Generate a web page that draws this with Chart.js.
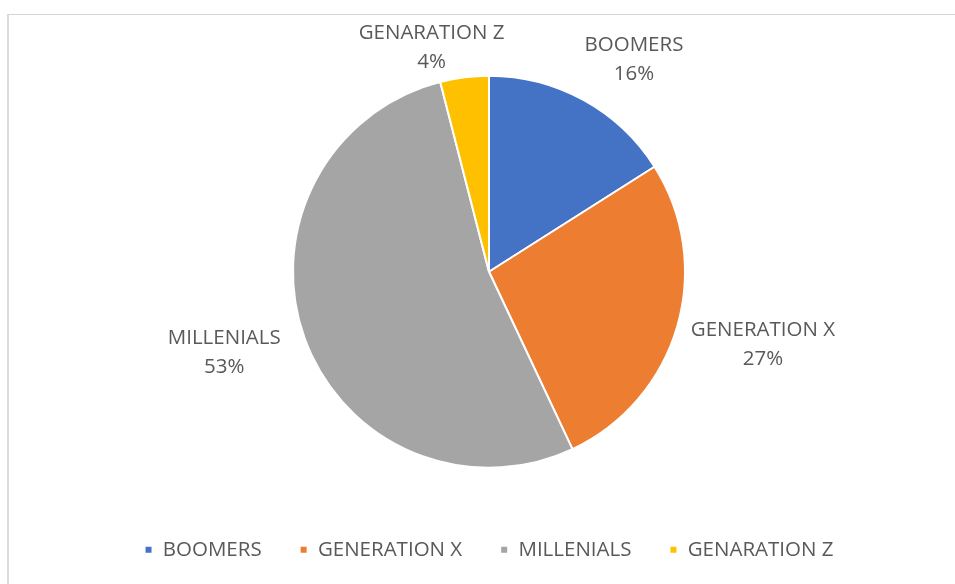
<!DOCTYPE html>
<html>
<head>
<meta charset="utf-8">
<title>Generations</title>
<script src="https://cdn.jsdelivr.net/npm/chart.js@4/dist/chart.umd.min.js"></script>
<style>
    html, body { margin: 0; padding: 0; background: #ffffff; }
    #wrap { position: relative; width: 955px; height: 584px; }
    #sheet {
        position: absolute; left: 7px; top: 14px; right: 0; bottom: 0;
        border-top: 1px solid #d4d4d4; border-left: 2px solid #dcdcdc;
    }
    #genChart { position: absolute; left: 0; top: 0; }
</style>
</head>
<body>
<div id="wrap">
    <div id="sheet"></div>
    <canvas id="genChart" width="955" height="584"></canvas>
</div>
<script>
const generations = ['BOOMERS', 'GENERATION X', 'MILLENIALS', 'GENARATION Z'];
const shares = [16, 27, 53, 4];
const sliceColors = ['#4472C4', '#ED7D31', '#A5A5A5', '#FFC000'];

const textColor = '#595959';
const fontFamily = "'Open Sans', 'Noto Sans', sans-serif";
const fontSize = 20.5;

// category name + percent written just outside each slice
const outsideLabels = {
    id: 'outsideLabels',
    afterDatasetsDraw(chart, args, opts) {
        const ctx = chart.ctx;
        const meta = chart.getDatasetMeta(0);
        ctx.save();
        ctx.font = fontSize + 'px ' + fontFamily;
        ctx.fillStyle = textColor;
        ctx.textAlign = 'center';
        ctx.textBaseline = 'middle';
        const lineH = 29;
        meta.data.forEach(function (arc, i) {
            const mid = (arc.startAngle + arc.endAngle) / 2;
            const r = arc.outerRadius + opts.offset;
            const lines = [chart.data.labels[i], shares[i] + '%'];
            const w = Math.max.apply(null, lines.map(t => ctx.measureText(t).width));
            const h = lineH * lines.length;
            const nudge = opts.nudge[i] || [0, 0];
            const cx = arc.x + Math.cos(mid) * (r + w / 2) + nudge[0];
            const cy = arc.y + Math.sin(mid) * (r + h / 2) + nudge[1];
            lines.forEach(function (t, k) {
                ctx.fillText(t, cx, cy - h / 2 + lineH * (k + 0.5));
            });
        });
        ctx.restore();
    }
};

const ctxGen = document.getElementById('genChart');

const genChart = new Chart(ctxGen, {
    type: 'pie',
    data: {
        labels: generations,
        datasets: [{
            data: shares,
            backgroundColor: sliceColors,
            borderColor: '#ffffff',
            borderWidth: 2
        }]
    },
    options: {
        responsive: false,
        animation: false,
        radius: 196,
        layout: {
            padding: { top: 42, bottom: 14, left: 23, right: 0 }
        },
        plugins: {
            legend: {
                position: 'bottom',
                labels: {
                    boxWidth: 8,
                    boxHeight: 8,
                    padding: 38,
                    color: textColor,
                    font: { family: fontFamily, size: fontSize }
                }
            },
            tooltip: { enabled: false },
            outsideLabels: {
                offset: 14,
                nudge: [[20, -3], [3, 6], [-14, 0], [-22, 13]]
            }
        }
    },
    plugins: [outsideLabels]
});
</script>
</body>
</html>
